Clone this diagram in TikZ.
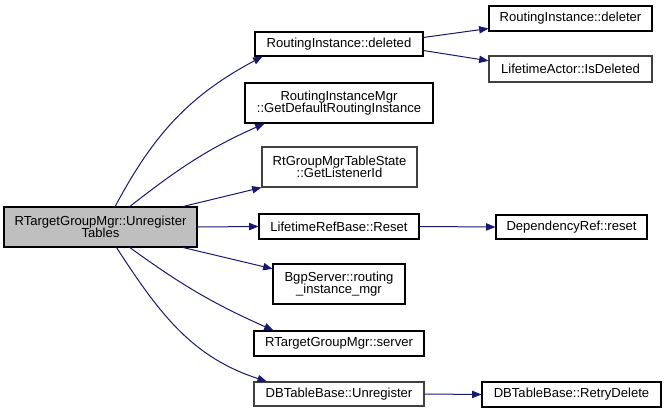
\documentclass[tikz,border=0pt]{standalone}
\usepackage{fontspec}
\setmainfont{Liberation Sans}
\usetikzlibrary{arrows.meta}
\definecolor{edgeblue}{HTML}{191970}
\definecolor{boxgray}{HTML}{404040}
\definecolor{mainfill}{HTML}{BFBFBF}
\tikzset{
    fn/.style 2 args={draw=black, line width=0.8pt, fill=white, inner sep=0pt, align=center,
        minimum width=#1*0.75pt, minimum height=#2*0.75pt,
        font=\fontsize{9.8}{9}\selectfont},
    call/.style={draw=edgeblue, line width=0.75pt, -{Triangle[length=7pt,width=5.5pt]}}
}
\begin{document}
\lineskiplimit=-3pt
\begin{tikzpicture}[x=0.75pt, y=-0.75pt]
    \useasboundingbox (0,0) rectangle (667,413);
    % caller
    \node[fn={193}{40}, fill=mainfill] (unregtables) at (100.5,227) {RTargetGroupMgr::Unregister\\Tables};
    % first level
    \node[fn={168}{24}] (deleted) at (339,44) {RoutingInstance::deleted};
    \node[fn={188}{40}] (defaultri) at (339,103) {RoutingInstanceMgr\\::GetDefaultRoutingInstance};
    \node[fn={155}{40}, draw=boxgray] (listenerid) at (339.5,167) {RtGroupMgrTableState\\::GetListenerId};
    \node[fn={160}{25}] (reset) at (339,226.5) {LifetimeRefBase::Reset};
    \node[fn={132}{40}] (rimgr) at (339,284) {BgpServer::routing\\\_instance\_mgr};
    \node[fn={170}{25}] (server) at (339,343.5) {RTargetGroupMgr::server};
    \node[fn={170}{24}, draw=boxgray] (unregister) at (339,394) {DBTableBase::Unregister};
    % second level
    \node[fn={163}{25}] (deleter) at (570.5,18.5) {RoutingInstance::deleter};
    \node[fn={163}{26}, draw=boxgray] (isdeleted) at (570.5,69) {LifetimeActor::IsDeleted};
    \node[fn={151}{24}] (depreset) at (571.5,227) {DependencyRef::reset};
    \node[fn={179}{25}] (retry) at (571.5,394.5) {DBTableBase::RetryDelete};

    \draw[call] ([xshift=11pt]unregtables.north) to[out=62, in=208] ([xshift=6pt]deleted.south west);
    \draw[call] ([xshift=22pt]unregtables.north) to[out=38, in=204] ([xshift=15pt]defaultri.south west);
    \draw[call] ([xshift=62pt]unregtables.north) -- (listenerid.south west);
    \draw[call] (unregtables.east) -- (reset.west);
    \draw[call] ([xshift=62pt]unregtables.south) -- ([yshift=-4pt]rimgr.north west);
    \draw[call] ([xshift=22pt]unregtables.south) to[out=-36, in=156] ([xshift=15pt]server.north west);
    \draw[call] ([xshift=12pt]unregtables.south) to[out=-57, in=162] ([xshift=10pt]unregister.north west);

    \draw[call] ([yshift=-4.5pt]deleted.north east) -- ([yshift=2.25pt]deleter.south west);
    \draw[call] ([yshift=4.5pt]deleted.south east) -- ([yshift=-4pt]isdeleted.north west);
    \draw[call] (reset.east) -- (depreset.west);
    \draw[call] (unregister.east) -- (retry.west);
\end{tikzpicture}
\end{document}
